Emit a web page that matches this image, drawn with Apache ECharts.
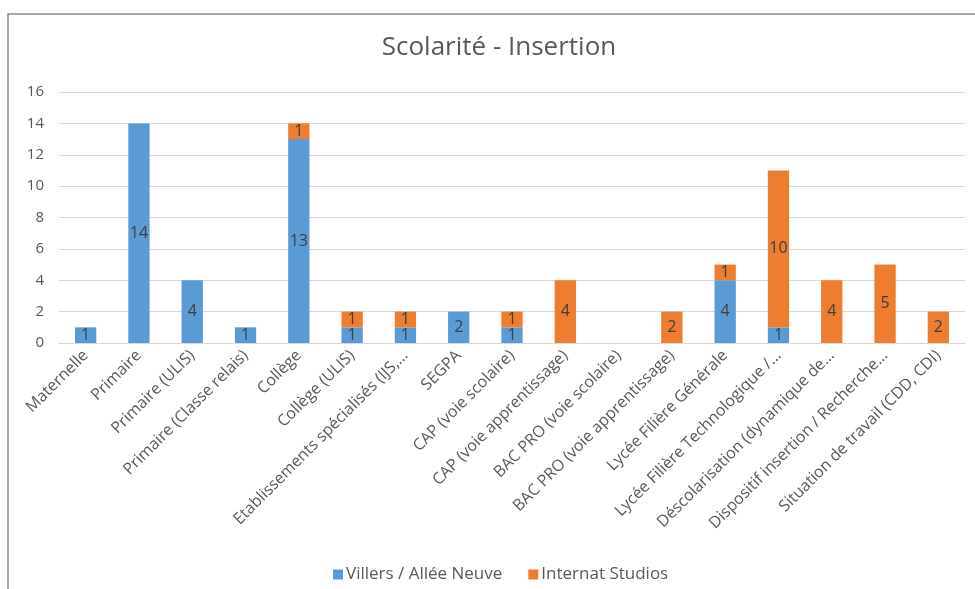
<!DOCTYPE html>
<html><head><meta charset="utf-8">
<script src="https://cdn.jsdelivr.net/npm/echarts@6/dist/echarts.min.js"></script>
<style>html,body{margin:0;padding:0;background:#fff}#c{width:975px;height:589px}</style>
</head><body><div id="c"></div>
<script>
const categories = ["Maternelle","Primaire","Primaire (ULIS)","Primaire (Classe relais)","Collège","Collège (ULIS)","Etablissements spécialisés (IJS,…","SEGPA","CAP (voie scolaire)","CAP (voie apprentissage)","BAC PRO (voie scolaire)","BAC PRO (voie apprentissage)","Lycée Filière Générale","Lycée Filière Technologique /…","Déscolarisation (dynamique de…","Dispositif insertion / Recherche…","Situation de travail (CDD, CDI)"];
const villers = [1,14,4,1,13,1,1,2,1,0,0,0,4,1,0,0,0];
const internat = [0,0,0,0,1,1,1,0,1,4,0,2,1,10,4,5,2];
const yTicks = {min:0, max:16, interval:2};
const font = "'Open Sans', 'Noto Sans', sans-serif";
const chart = echarts.init(document.getElementById('c'));
const lbl = {show:true, position:'inside', color:'#404040', fontSize:16, fontFamily:font,
  formatter: p => p.value ? String(p.value) : ''};
chart.setOption({
  animation:false,
  graphic:[{type:'polyline', shape:{points:[[8,589],[8,14],[975,14]]}, style:{stroke:'#8c8c8c', lineWidth:1.5, fill:null}}],
  title:{text:'Scolarité - Insertion', left:494, textAlign:'center', top:30, textStyle:{color:'#595959', fontSize:26, fontWeight:'normal', fontFamily:font}},
  legend:{bottom:1, left:328, itemWidth:10, itemHeight:10, itemGap:26, icon:'rect',
    textStyle:{color:'#595959', fontSize:17, fontFamily:font, padding:[0,0,0,-2]}},
  grid:{left:59, right:10, top:92, bottom:246},
  xAxis:{type:'category', data:categories,
    axisLine:{lineStyle:{color:'#d9d9d9'}}, axisTick:{show:false},
    axisLabel:{rotate:45, interval:0, color:'#595959', fontSize:16, fontFamily:font, margin:10}},
  yAxis:{type:'value', min:yTicks.min, max:yTicks.max, interval:yTicks.interval,
    axisLine:{show:false}, axisTick:{show:false},
    axisLabel:{color:'#595959', fontSize:15, fontFamily:font, margin:15},
    splitLine:{lineStyle:{color:'#d9d9d9'}}},
  series:[
    {name:'Villers / Allée Neuve', type:'bar', stack:'s', data:villers, barWidth:'40%',
      itemStyle:{color:'#5B9BD5'}, label:lbl},
    {name:'Internat Studios', type:'bar', stack:'s', data:internat, barWidth:'40%',
      itemStyle:{color:'#ED7D31'}, label:lbl}
  ]
});
</script></body></html>
